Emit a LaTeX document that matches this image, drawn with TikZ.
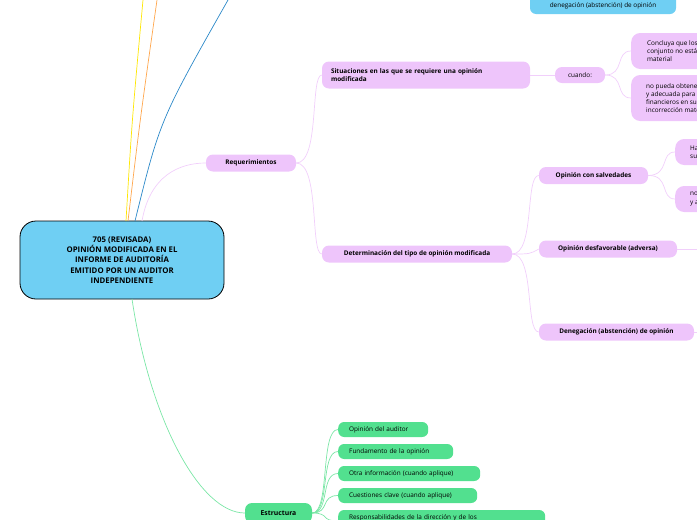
\documentclass[tikz,border=0pt]{standalone}
\usepackage{fontspec}
\setmainfont{Open Sans}
\usetikzlibrary{positioning}
\definecolor{rootblue}{HTML}{6FCFF3}
\definecolor{lilac}{HTML}{EEC5FB}
\definecolor{lilacline}{HTML}{F1CFFB}
\definecolor{mint}{HTML}{52E08F}
\definecolor{mintline}{HTML}{7BE6A6}
\definecolor{skyline}{HTML}{2A88C8}
\begin{document}
\begin{tikzpicture}[
        x = 1pt, y = -1pt, % pixel grid of the reference
        every node/.style = {font=\fontsize{6.4}{8.2}\selectfont, inner sep=0pt},
        topic/.style = {fill=lilac, rounded corners=7pt, minimum height=17pt, font=\fontsize{6.4}{8.2}\selectfont\bfseries},
        leaf/.style = {fill=lilac, rounded corners=9pt, anchor=west, minimum width=#1},
        greenbox/.style = {fill=mint, rounded corners=6pt, minimum height=15pt, anchor=west, text width=#1, inner xsep=11pt},
        branch/.style = {line width=0.7pt}
    ]
    \useasboundingbox (0,0) rectangle (697,520);
    \clip (0,0) rectangle (697,520);
    % root
    \node[draw=black, thick, fill=rootblue, rounded corners=16pt, minimum width=204pt,
          minimum height=78pt, align=center, font=\fontsize{7.8}{10.2}\selectfont\bfseries]
          (root) at (122,260) {705 (REVISADA)\\OPINIÓN MODIFICADA EN EL\\INFORME DE AUDITORÍA\\EMITIDO POR UN AUDITOR\\INDEPENDIENTE};
    \coordinate (up1) at (143,0);
    \coordinate (up2) at (157,0);
    \coordinate (up3) at (228,0);
    \draw[yellow!90!orange, branch] (126,221) .. controls (132,120) .. (up1);
    \draw[orange!70, branch] (128,221) .. controls (140,120) .. (up2);
    \draw[skyline, branch] (135,221) .. controls (160,120) .. (up3);
    % blue leaf on top
    \node[fill=rootblue, rounded corners=6pt, minimum width=146pt, minimum height=26pt]
          (deneg0) at (603,1) {};
    \node at (603,6) {denegación (abstención) de opinión};
    % requirements branch
    \node[topic, minimum width=90pt] (req) at (251,163) {Requerimientos};
    \node[topic, minimum height=27pt, text width=190pt, inner xsep=9pt, align=left] (sit) at (426,75)
        {Situaciones en las que se requiere una opinión\\modificada};
    \node[fill=lilac, rounded corners=7pt, minimum width=50pt, minimum height=16pt] (cuando) at (580,75) {cuando:};
    \node[leaf=150pt, minimum height=36pt] (concl) at (631,51) {};
    \node[anchor=west, align=left] at (647,51) {Concluya que los estados financieros en su\\conjunto no están libres de incorrección\\material};
    \node[leaf=150pt, minimum height=46pt] (nopueda) at (631,98) {};
    \node[anchor=west, align=left] at (646,98) {no pueda obtener evidencia de auditoría suficiente\\y adecuada para concluir que los estados\\financieros en su conjunto están libres de\\incorrección material};
    \node[topic, minimum width=190pt] (det) at (417,254) {Determinación del tipo de opinión modificada};
    \node[topic, minimum width=109pt] (salv) at (593.5,175.5) {Opinión con salvedades};
    \node[topic, minimum width=138pt] (desf) at (608,249) {Opinión desfavorable (adversa)};
    \node[topic, minimum width=155pt] (abst) at (616.5,332) {Denegación (abstención) de opinión};
    \node[leaf=60pt, minimum height=26pt] (salv1) at (675,152) {};
    \node[anchor=west, align=left] at (690,152) {Ha\\su};
    \node[leaf=60pt, minimum height=26pt] (salv2) at (675,199) {};
    \node[anchor=west, align=left] at (690,199) {no\\y a};
    \coordinate (desfend) at (697,249);
    \coordinate (abstend) at (697,332);
    \draw[lilacline, branch] (142,221) .. controls (150,175) and (180,163) .. (req.west);
    \draw[lilacline, branch] (req.east) .. controls (320,163) and (310,75) .. (sit.west);
    \draw[lilacline, branch] (req.east) .. controls (320,163) and (310,254) .. (det.west);
    \draw[lilacline, branch] (sit.east) -- (cuando.west);
    \draw[lilacline, branch] (cuando.east) .. controls (625,75) and (615,51) .. (concl.west);
    \draw[lilacline, branch] (cuando.east) .. controls (625,75) and (615,98) .. (nopueda.west);
    \draw[lilacline, branch] (det.east) .. controls (535,254) and (525,175) .. (salv.west);
    \draw[lilacline, branch] (det.east) .. controls (530,254) .. (desf.west);
    \draw[lilacline, branch] (det.east) .. controls (535,254) and (525,332) .. (abst.west);
    \draw[lilacline, branch] (salv.east) .. controls (670,175) and (660,152) .. (salv1.west);
    \draw[lilacline, branch] (salv.east) .. controls (670,175) and (660,199) .. (salv2.west);
    \draw[lilacline, branch] (desf.east) -- (desfend);
    \draw[lilacline, branch] (abst.east) -- (abstend);
    % structure branch
    \node[fill=mint, rounded corners=7pt, minimum width=67pt, minimum height=20pt,
          font=\fontsize{6.8}{8}\selectfont\bfseries] (estr) at (278.5,513) {Estructura};
    \node[greenbox=68pt] (g1) at (338,429.5) {Opinión del auditor};
    \node[greenbox=93pt] (g2) at (338,451.5) {Fundamento de la opinión};
    \node[greenbox=120pt] (g3) at (338,473.5) {Otra información (cuando aplique)};
    \node[greenbox=117pt] (g4) at (338,495.5) {Cuestiones clave (cuando aplique)};
    \node[greenbox=185pt, minimum height=22pt, text depth=8pt] (g5) at (338,521) {Responsabilidades de la dirección y de los};
    \draw[mintline, branch] (132,299) .. controls (150,420) and (200,513) .. (estr.west);
    \foreach \g in {g1,g2,g3,g4,g5}
        \draw[mintline, branch] (estr.east) .. controls +(18,0) and +(-18,0) .. (\g.west);
\end{tikzpicture}
\end{document}
